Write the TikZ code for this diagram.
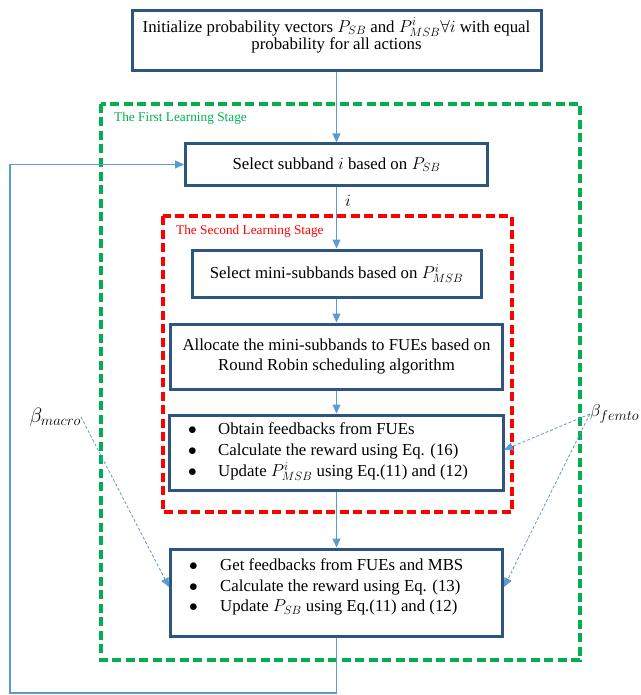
\documentclass[tikz,border=0pt]{standalone}
\usepackage{fontspec}
\setmainfont{Liberation Serif}
\usetikzlibrary{arrows.meta}
\definecolor{boxblue}{RGB}{46,84,128}
\definecolor{arrblue}{RGB}{91,155,213}
\definecolor{stgreen}{RGB}{0,176,80}
\definecolor{stred}{RGB}{255,0,0}
\begin{document}
\begin{tikzpicture}[x=1pt,y=-1pt,
  stepbox/.style={draw=boxblue,line width=3pt,fill=white,inner sep=0pt,align=center,font=\fontsize{16.8}{20.5}\selectfont},
  flow/.style={draw=arrblue,line width=1.1pt,-{Triangle[length=9pt,width=8pt]}},
  beta/.style={draw=arrblue,line width=0.8pt,dash pattern=on 3pt off 2pt,-{Triangle[length=9pt,width=8pt]}},
  stage/.style={line width=3.2pt,dash pattern=on 9pt off 4.5pt},
  stagelabel/.style={anchor=west,font=\fontsize{13.3}{15}\selectfont,inner sep=0pt},
  bullets/.style={anchor=west,align=left,inner sep=0pt,font=\fontsize{16.8}{20.8}\selectfont},
  betalabel/.style={inner sep=0pt,font=\fontsize{20}{22}\selectfont}]
\useasboundingbox (0,0) rectangle (640,695);
% stage frames
\draw[stage,draw=stgreen] (101,104) rectangle (580,660);
\draw[stage,draw=stred] (163,216) rectangle (512,512);
\node[stagelabel,text=stgreen] (lab1) at (114,118) {The First Learning Stage};
\node[stagelabel,text=stred] (lab2) at (176,231) {The Second Learning Stage};
% boxes
\node[stepbox,minimum width=409pt,minimum height=60pt] (init) at (336.5,41) {};
\node[inner sep=0pt,align=center,font=\fontsize{16.8}{17.5}\selectfont] (initt) at (336.5,35.5)
  {Initialize probability vectors $P_{SB}$ and $P^{i}_{MSB}\forall i$ with equal\\ probability for all actions};
\node[stepbox,minimum width=302pt,minimum height=41pt] (sub) at (336.5,164.5) {Select subband $i$ based on $P_{SB}$};
\node[stepbox,minimum width=289pt,minimum height=47pt] (mini) at (336.5,273.5) {Select mini-subbands based on $P^{i}_{MSB}$};
\node[stepbox,minimum width=332pt,minimum height=65pt] (alloc) at (336.5,356.5) {Allocate the mini-subbands to FUEs based on\\ Round Robin scheduling algorithm};
\node[stepbox,minimum width=334pt,minimum height=75pt] (fb1) at (336.5,452.5) {};
\node[bullets] (fb1t) at (188,452)
  {\makebox[30pt][l]{$\bullet$}Obtain feedbacks from FUEs\\
   \makebox[30pt][l]{$\bullet$}Calculate the reward using Eq. (16)\\
   \makebox[30pt][l]{$\bullet$}Update $P^{i}_{MSB}$ using Eq.(11) and (12)};
\node[stepbox,minimum width=332pt,minimum height=87pt] (fb2) at (336.5,592.5) {};
\node[bullets] (fb2t) at (189,587)
  {\makebox[31pt][l]{$\bullet$}Get feedbacks from FUEs and MBS\\
   \makebox[31pt][l]{$\bullet$}Calculate the reward using Eq. (13)\\
   \makebox[31pt][l]{$\bullet$}Update $P_{SB}$ using Eq.(11) and (12)};
% flow arrows
\draw[flow] (init.south) -- (sub.north);
\draw[flow] (sub.south) -- (mini.north);
\node[betalabel,font=\fontsize{17}{19}\selectfont] (ilab) at (348,201) {$i$};
\draw[flow] (mini.south) -- (alloc.north);
\draw[flow] (alloc.south) -- (fb1.north);
\draw[flow] (fb1.south) -- (fb2.north);
\coordinate (loopL) at (10,693);
\draw[flow] (fb2.south) |- (loopL) |- (sub.west);
% beta inputs
\node[betalabel,anchor=east] (bmac) at (81,417) {$\beta_{macro}$};
\node[betalabel,anchor=east,font=\fontsize{19}{21}\selectfont] (bfem) at (639.5,414) {$\beta_{femto}$};
\coordinate (m2) at (169,587);
\coordinate (f1) at (504,450);
\coordinate (f2) at (504,587);
\draw[beta] (bmac.east) -- (m2);
\draw[beta] (bfem.west) -- (f1);
\draw[beta] (bfem.west) -- (f2);
\end{tikzpicture}
\end{document}
